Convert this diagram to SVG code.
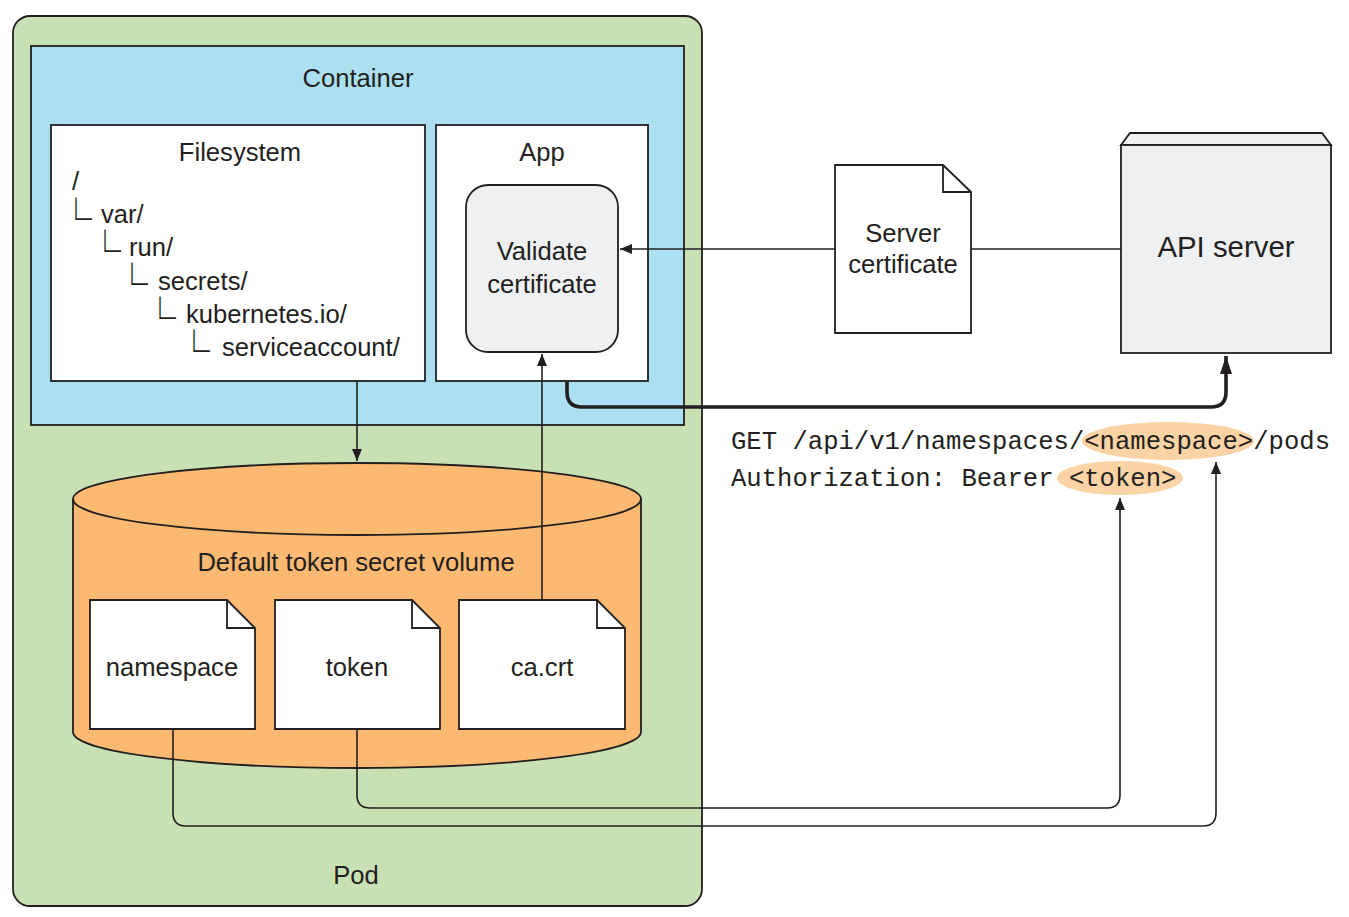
<svg xmlns="http://www.w3.org/2000/svg" width="1349" height="917" viewBox="0 0 1349 917">
<style>
text{font-family:"Liberation Sans",Arial,sans-serif;fill:#231f20;font-size:25.6px}
.c{text-anchor:middle}
.mono{font-family:"Liberation Mono","Courier New",monospace;font-size:25.6px;fill:#231f20}
.box{stroke:#231f20;stroke-width:1.8}
.ln{fill:none;stroke:#231f20;stroke-width:1.6}
.thick{fill:none;stroke:#231f20;stroke-width:3.6}
.tree{font-family:"Noto Sans CJK SC",sans-serif;font-size:32px}
</style>
<defs>
<marker id="ah" viewBox="0 0 12 10" refX="12" refY="5" markerWidth="12" markerHeight="10" markerUnits="userSpaceOnUse" orient="auto">
<path d="M0,0 L12,5 L0,10 z" fill="#231f20"/>
</marker>
<marker id="ahb" viewBox="0 0 18 12" refX="18" refY="6" markerWidth="18" markerHeight="12" markerUnits="userSpaceOnUse" orient="auto">
<path d="M0,0 L18,6 L0,12 z" fill="#231f20"/>
</marker>
</defs>
<rect width="1349" height="917" fill="#ffffff"/>

<g id="pod">
<rect x="13" y="16" width="689" height="890" rx="17" fill="#c8e1b4" class="box"/>
<text x="356" y="884" class="c">Pod</text>
</g>

<g id="container">
<rect x="31" y="46" width="653" height="379" fill="#acdff0" class="box"/>
<text x="358" y="87" class="c">Container</text>
</g>

<g id="filesystem">
<rect x="51" y="125" width="374" height="256" fill="#ffffff" class="box"/>
<text x="240" y="161" class="c">Filesystem</text>
<text x="72" y="190">/</text>
<text transform="translate(60,234.8) scale(1,1.3)" class="tree">└</text><text x="101" y="223">var/</text>
<text transform="translate(89,266.8) scale(1,1.3)" class="tree">└</text><text x="129" y="256">run/</text>
<text transform="translate(116,299.8) scale(1,1.3)" class="tree">└</text><text x="158" y="290">secrets/</text>
<text transform="translate(144,333.8) scale(1,1.3)" class="tree">└</text><text x="186" y="323">kubernetes.io/</text>
<text transform="translate(178,366.8) scale(1,1.3)" class="tree">└</text><text x="222" y="356">serviceaccount/</text>
</g>

<g id="app">
<rect x="436" y="125" width="212" height="256" fill="#ffffff" class="box"/>
<text x="542" y="161" class="c">App</text>
</g>

<g id="validate">
<rect x="466" y="185" width="152" height="167" rx="22" fill="#eef0f2" class="box"/>
<text x="542" y="260" class="c">Validate</text>
<text x="542" y="293" class="c">certificate</text>
</g>

<g id="volume">
<path d="M73,499 L73,732 A284,36 0 0 0 641,732 L641,499" fill="#fbb972" class="box"/>
<ellipse cx="357" cy="499" rx="284" ry="36" fill="#fbb972" class="box"/>
<text x="356" y="571" class="c">Default token secret volume</text>
</g>

<g id="namespace-file">
<path d="M90,600 L227,600 L255,628 L255,729 L90,729 z" fill="#ffffff" class="box"/>
<path d="M227,600 L227,628 L255,628" fill="none" class="box"/>
<text x="172" y="676" class="c">namespace</text>
</g>

<g id="token-file">
<path d="M275,600 L412,600 L440,628 L440,729 L275,729 z" fill="#ffffff" class="box"/>
<path d="M412,600 L412,628 L440,628" fill="none" class="box"/>
<text x="357" y="676" class="c">token</text>
</g>

<g id="cacrt-file">
<path d="M459,600 L597,600 L625,628 L625,729 L459,729 z" fill="#ffffff" class="box"/>
<path d="M597,600 L597,628 L625,628" fill="none" class="box"/>
<text x="542" y="676" class="c">ca.crt</text>
</g>

<g id="server-certificate">
<path d="M835,165 L943,165 L971,192 L971,333 L835,333 z" fill="#ffffff" class="box"/>
<path d="M943,165 L943,192 L971,192" fill="none" class="box"/>
<text x="903" y="242" class="c">Server</text>
<text x="903" y="273" class="c">certificate</text>
</g>

<g id="api-server">
<path d="M1121,145 L1130,133 L1322,133 L1331,145 z" fill="#eef0f2" class="box"/>
<rect x="1121" y="145" width="210" height="208" fill="#eef0f2" class="box"/>
<text x="1226" y="257" class="c" style="font-size:29.4px">API server</text>
</g>

<g id="request">
<ellipse cx="1168" cy="441" rx="86" ry="19" fill="#fcd3a5"/>
<ellipse cx="1120" cy="478" rx="63" ry="17" fill="#fcd3a5"/>
<text x="731" y="449" class="mono">GET /api/v1/namespaces/&lt;namespace&gt;/pods</text>
<text x="731" y="486" class="mono">Authorization: Bearer &lt;token&gt;</text>
</g>

<g id="connectors">
<path d="M1121,249 L971,249" class="ln"/>
<path d="M835,249 L620,249" class="ln" marker-end="url(#ah)"/>
<path d="M357,381 L357,461" class="ln" marker-end="url(#ah)"/>
<path d="M542,600 L542,354" class="ln" marker-end="url(#ah)"/>
<path d="M567,381 L567,392 Q567,407 582,407 L1211,407 Q1226,407 1226,392 L1226,356" class="thick" marker-end="url(#ahb)"/>
<path d="M357,729 L357,795 Q357,808 370,808 L1107,808 Q1120,808 1120,795 L1120,498" class="ln" marker-end="url(#ah)"/>
<path d="M173,729 L173,813 Q173,826 186,826 L1203,826 Q1216,826 1216,813 L1216,462" class="ln" marker-end="url(#ah)"/>
</g>
</svg>
